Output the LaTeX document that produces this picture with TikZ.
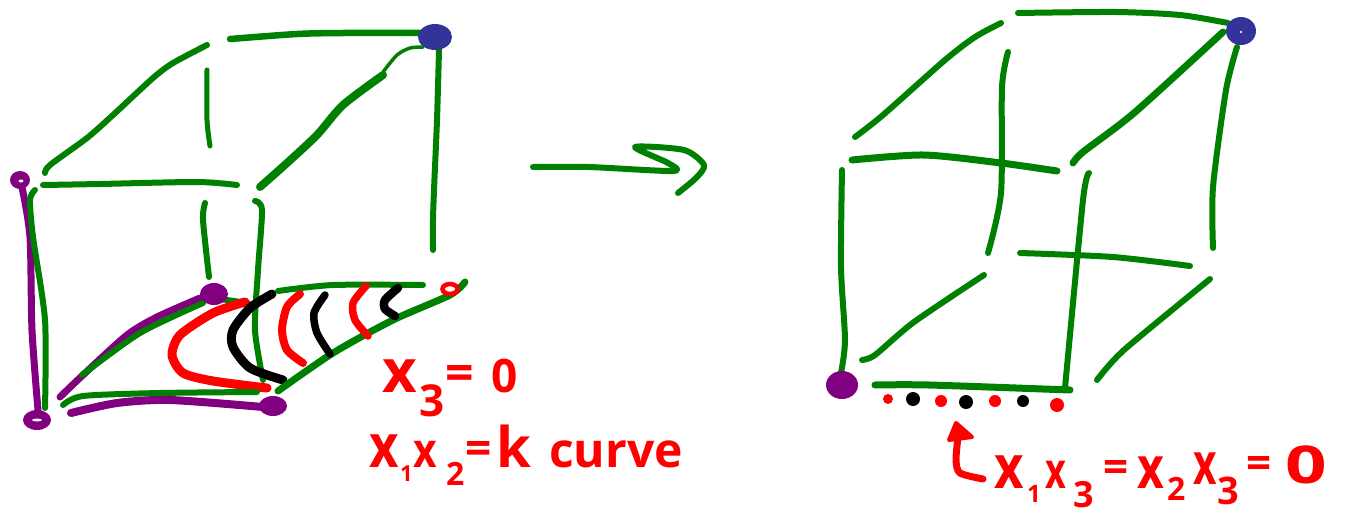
\documentclass[tikz,border=0pt]{standalone}
\usepackage{fontspec}
\usepackage{graphicx}
\setmainfont{Open Sans}
\definecolor{pgreen}{RGB}{0,128,0}
\definecolor{ppurple}{RGB}{128,0,128}
\definecolor{pblue}{RGB}{51,51,153}
\definecolor{pred}{RGB}{255,0,0}
\newcommand{\gl}[5][1]{\makebox[0pt][l]{\hspace{#2pt}\raisebox{#3pt}{\fontsize{#4}{#4}\selectfont\scalebox{#1}[1]{#5}}}}
\tikzset{
  pen/.style={line cap=round,line join=round,smooth,tension=0.45},
  gr/.style={pen,draw=pgreen,line width=#1},gr/.default=6pt,
  pu/.style={pen,draw=ppurple,line width=#1},pu/.default=7pt,
  re/.style={pen,draw=pred,line width=#1},re/.default=8pt,
  bk/.style={pen,draw=black,line width=#1},bk/.default=8pt,
  hand/.style={text=pred,font=\bfseries,inner sep=0pt,anchor=base west}
}
\newcommand{\stk}[2]{\draw[#1] plot coordinates {#2};}
\begin{document}
\begin{tikzpicture}[x=1pt,y=-1pt]
\useasboundingbox (0,0) rectangle (1346,514);
\fill[white] (0,0) rectangle (1346,514);
% left cube
\stk{gr=6.5pt}{(230,39)(297,34)(343,33)(420,33)}
\stk{gr}{(45,173)(50,165)(87,138)(113,115)(153,78)(173,63)(207,45)}
\stk{gr=5pt}{(207,70)(207,120)(210,146)}
\stk{gr=8pt}{(260,187)(287,163)(317,135)(343,105)(383,75)}
\stk{gr=3.5pt}{(383,72)(397,55)(410,48)(423,47)}
\stk{gr}{(439,50)(437,120)(434,190)(433,220)(433,250)}
\stk{gr}{(43,185)(100,184)(197,182)(237,185)}
\stk{pu}{(22,187)(30,237)(32,330)(38,410)}
\stk{gr}{(35,190)(30,200)(33,237)(45,320)(45,408)}
\stk{gr}{(205,203)(203,220)(209,277)}
\stk{pu}{(60,397)(83,375)(127,335)(157,317)(200,298)}
\stk{gr}{(82,375)(140,333)(203,303)}
\stk{gr}{(220,299)(248,303)}
\stk{gr}{(255,201)(262,210)(258,270)(255,330)(263,380)}
\stk{re=9pt}{(245,302)(213,313)(180,335)(172,355)(183,373)(213,381)(267,388)}
\stk{bk=9pt}{(272,294)(250,308)(233,330)(233,347)(250,368)(283,380)}
\stk{gr}{(63,405)(83,396)(160,393)(257,392)}
\stk{pu=8pt}{(71,413)(117,403)(170,400)(263,407)}
\stk{gr}{(278,291)(333,285)(423,285)}
\stk{gr=7pt}{(278,391)(333,353)(393,320)(450,295)(465,282)}
\stk{re}{(300,294)(287,307)(282,330)(287,350)(303,363)}
\stk{bk=7.5pt}{(325,295)(314,313)(317,333)(330,354)}
\stk{re=7.5pt}{(366,286)(353,303)(355,320)(368,336)}
\stk{bk=8.5pt}{(398,288)(385,300)(385,309)(395,316)}
\fill[pblue] (435,37) ellipse [x radius=17,y radius=13];
\fill[ppurple] (20,180) ellipse [x radius=10,y radius=9];
\fill[white] (21,181) ellipse [x radius=2.5,y radius=1.5];
\fill[ppurple] (37,420) ellipse [x radius=14,y radius=10];
\fill[white] (37,420) ellipse [x radius=5,y radius=1.5];
\fill[ppurple] (214,294) ellipse [x radius=14,y radius=11];
\fill[ppurple] (273,406) ellipse [x radius=14,y radius=10];
\draw[pred,line width=4.5pt,fill=white] (450,289) ellipse [x radius=7.5,y radius=5];
% arrow
\stk{gr}{(533,167)(589,167)(673,171)(668,163)(635,147)(684,150)(704,165)(696,178)(678,193)}
% right cube
\stk{gr}{(1018,13)(1116,12)(1180,15)(1228,23)}
\stk{gr}{(855,137)(883,115)(945,60)(975,37)(1001,23)}
\stk{gr}{(1008,52)(1002,87)(1001,193)(988,253)}
\stk{gr=7pt}{(1073,163)(1083,152)(1134,113)(1223,32)}
\stk{gr}{(1237,47)(1226,90)(1213,187)(1213,248)}
\stk{gr=7pt}{(852,160)(924,155)(1001,163)(1057,171)}
\stk{gr}{(1089,173)(1083,200)(1065,388)}
\stk{gr}{(842,170)(841,267)(845,340)(841,373)}
\stk{gr}{(1020,253)(1113,257)(1190,266)}
\stk{gr}{(862,360)(875,355)(914,322)(984,275)}
\stk{gr}{(1097,380)(1124,350)(1210,279)}
\stk{gr=7pt}{(875,385)(929,385)(1070,390)}
\fill[pblue] (1241,31) ellipse [x radius=15,y radius=14];
\fill[white] (1241,32) ellipse [x radius=1,y radius=1.5];
\fill[ppurple] (842,385) ellipse [x radius=16,y radius=14];
\fill[pred] (888,399) circle (5);
\fill[black] (913,399) circle (7);
\fill[pred] (941,401) circle (6);
\fill[black] (966,402) circle (7);
\fill[pred] (995,401) circle (6);
\fill[black] (1023,401) circle (6);
\fill[pred] (1057,405) circle (7);
% pointer
\stk{re=7pt}{(983,479)(960,473)(956,460)(958,437)}
\draw[pred,line width=4pt,line join=round,fill=pred] (949,440) -- (956,423) -- (972,437) -- cycle;
% labels
\node[hand] (lblA) at (383,392) {\makebox[139pt][l]{\gl{-1}{0}{60}{x}\gl{36}{-24}{44}{3}\gl{62}{2}{50}{=}\gl{108}{0}{46}{0}}};
\node[hand] (lblB) at (370,467) {\makebox[312pt][l]{\gl[.85]{-1}{0}{60}{x}\gl{30}{-14}{22}{1}\gl[.85]{43}{0}{48}{x}\gl{76}{-18}{32}{2}\gl{95}{3}{46}{=}\gl{126}{0}{56}{k}\gl{179}{0}{48}{curve}}};
\node[hand] (lblC) at (995,488) {\makebox[335pt][l]{\gl[.85]{-1}{0}{60}{x}\gl{32}{-14}{24}{1}\gl[.72]{50}{0}{50}{x}\gl{78}{-19}{36}{3}\gl{108}{6}{44}{=}\gl[.8]{142}{0}{58}{x}\gl{172}{-12}{32}{2}\gl[.7]{198}{4}{58}{x}\gl{222}{-16}{38}{3}\gl{251}{10}{44}{=}\gl[1.4]{290}{5}{52}{0}}};
\end{tikzpicture}
\end{document}
